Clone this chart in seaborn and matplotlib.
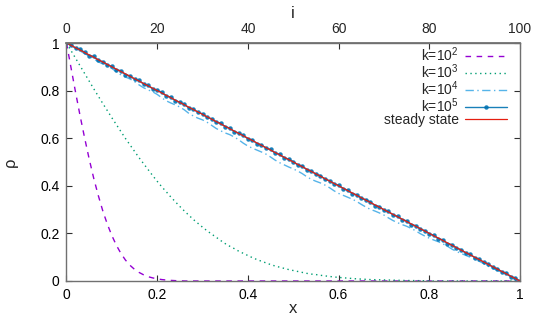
import numpy as np
import pandas as pd
import matplotlib
matplotlib.use("Agg")
import matplotlib.pyplot as plt
import seaborn as sns

# ==============================================================================
# DATA: density profile rho(x) after k steps, lattice sites i = 0..100
# ==============================================================================
i_sites = np.arange(0, 101)
x_pos = i_sites / 100.0

rho_k2 = [1.000, 0.896, 0.793, 0.694, 0.601, 0.513, 0.432, 0.360, 0.295, 0.239,
          0.191, 0.150, 0.116, 0.088, 0.066, 0.049, 0.036, 0.026, 0.018, 0.013,
          0.009, 0.006, 0.004, 0.0025, 0.0015, 0.001] + [0.0] * 75

rho_k3 = [1.000, 0.968, 0.936, 0.904, 0.872, 0.840, 0.808, 0.777, 0.746, 0.716,
          0.686, 0.657, 0.628, 0.599, 0.572, 0.545, 0.518, 0.493, 0.468, 0.443,
          0.419, 0.396, 0.375, 0.353, 0.333, 0.313, 0.294, 0.276, 0.258, 0.242,
          0.226, 0.211, 0.197, 0.184, 0.170, 0.157, 0.146, 0.136, 0.125, 0.116,
          0.107, 0.098, 0.090, 0.083, 0.076, 0.069, 0.063, 0.058, 0.053, 0.048,
          0.044, 0.040, 0.036, 0.032, 0.029, 0.027, 0.024, 0.0215, 0.019, 0.017,
          0.015, 0.0135, 0.012, 0.0105, 0.009, 0.008, 0.007, 0.006, 0.0055, 0.005,
          0.0045, 0.004, 0.0035, 0.003, 0.0025, 0.002, 0.002, 0.0015, 0.0015, 0.001,
          0.001] + [0.0] * 20

rho_k4 = [1.000, 0.989, 0.979, 0.967, 0.955, 0.946, 0.934, 0.921, 0.912, 0.904,
          0.893, 0.879, 0.866, 0.857, 0.849, 0.838, 0.824, 0.812, 0.803, 0.795,
          0.784, 0.770, 0.757, 0.748, 0.740, 0.731, 0.719, 0.704, 0.693, 0.684,
          0.677, 0.667, 0.654, 0.641, 0.631, 0.622, 0.615, 0.605, 0.593, 0.579,
          0.567, 0.558, 0.550, 0.542, 0.533, 0.521, 0.508, 0.497, 0.488, 0.479,
          0.471, 0.462, 0.451, 0.438, 0.427, 0.419, 0.412, 0.403, 0.392, 0.379,
          0.368, 0.360, 0.352, 0.344, 0.334, 0.322, 0.311, 0.301, 0.294, 0.286,
          0.277, 0.265, 0.254, 0.245, 0.237, 0.230, 0.221, 0.211, 0.199, 0.189,
          0.180, 0.172, 0.165, 0.156, 0.146, 0.134, 0.124, 0.116, 0.108, 0.100,
          0.092, 0.083, 0.073, 0.062, 0.053, 0.045, 0.036, 0.028, 0.018, 0.009,
          0.000]

rho_k5 = [1.000, 0.993, 0.978, 0.974, 0.961, 0.947, 0.944, 0.927, 0.922, 0.908,
          0.902, 0.887, 0.884, 0.867, 0.862, 0.848, 0.843, 0.827, 0.822, 0.807,
          0.801, 0.794, 0.777, 0.773, 0.757, 0.752, 0.743, 0.726, 0.723, 0.708,
          0.703, 0.687, 0.682, 0.667, 0.664, 0.648, 0.643, 0.627, 0.622, 0.612,
          0.597, 0.593, 0.577, 0.572, 0.558, 0.553, 0.537, 0.533, 0.517, 0.512,
          0.502, 0.487, 0.483, 0.467, 0.463, 0.448, 0.443, 0.427, 0.422, 0.408,
          0.403, 0.388, 0.382, 0.367, 0.363, 0.347, 0.342, 0.332, 0.317, 0.313,
          0.297, 0.293, 0.277, 0.272, 0.258, 0.253, 0.237, 0.233, 0.218, 0.212,
          0.198, 0.192, 0.178, 0.173, 0.157, 0.153, 0.138, 0.132, 0.117, 0.113,
          0.098, 0.092, 0.078, 0.072, 0.057, 0.052, 0.038, 0.033, 0.018, 0.012,
          0.000]

steady_x = [0.0, 1.0]
steady_rho = [1.0, 0.0]

labels = ["k=$10^2$", "k=$10^3$", "k=$10^4$", "k=$10^5$", "steady state"]
colors = ["#9400d3", "#009e73", "#56b4e9", "#0072b2", "#e51e10"]

# ==============================================================================
# STYLE
# ==============================================================================
sns.set_theme(style="white")
plt.rcParams["font.family"] = ["Liberation Sans", "DejaVu Sans"]
plt.rcParams["font.size"] = 10
plt.rcParams["mathtext.default"] = "regular"

fig = plt.figure(figsize=(5.45, 3.27), dpi=100)
ax = fig.add_axes([0.1220, 0.1407, 0.8321, 0.7278])

df2 = pd.DataFrame({"x": x_pos, "rho": rho_k2})
df3 = pd.DataFrame({"x": x_pos, "rho": rho_k3})
df4 = pd.DataFrame({"x": x_pos, "rho": rho_k4})
df5 = pd.DataFrame({"x": x_pos, "rho": rho_k5})
df_ss = pd.DataFrame({"x": steady_x, "rho": steady_rho})

sns.lineplot(data=df2, x="x", y="rho", ax=ax, color=colors[0], lw=1.0,
             label=labels[0], linestyle=(0, (4, 4)))
sns.lineplot(data=df3, x="x", y="rho", ax=ax, color=colors[1], lw=1.0,
             label=labels[1], linestyle=(0, (1, 2.5)))
sns.lineplot(data=df4, x="x", y="rho", ax=ax, color=colors[2], lw=1.0,
             label=labels[2], linestyle=(0, (6, 2.5, 1, 2.5)))
sns.lineplot(data=df5, x="x", y="rho", ax=ax, color=colors[3], lw=1.0,
             label=labels[3], marker="o", markersize=3.2, markeredgewidth=0,
             alpha=0.9)
sns.lineplot(data=df_ss, x="x", y="rho", ax=ax, color=colors[4], lw=0.9,
             label=labels[4])

ax.set_xlim(0, 1)
ax.set_ylim(0, 1)
ax.set_xticks(np.arange(0, 1.01, 0.2))
ax.set_yticks(np.arange(0, 1.01, 0.2))
ax.set_xticklabels(["0", "0.2", "0.4", "0.6", "0.8", "1"])
ax.set_yticklabels(["0", "0.2", "0.4", "0.6", "0.8", "1"])
ax.set_xlabel("x", labelpad=-1)
ax.set_ylabel("ρ", labelpad=16)

for sp in ax.spines.values():
    sp.set_color("#707070")
    sp.set_linewidth(1.0)
ax.tick_params(direction="in", length=4, width=0.8, color="#303030",
               left=True, bottom=True, right=True, top=False, pad=5,
               labelsize=10, labelcolor="black")

# top axis: site index i
ax_top = ax.secondary_xaxis("top", functions=(lambda v: v * 100, lambda v: v / 100))
ax_top.set_xticks(np.arange(0, 101, 20))
ax_top.set_xlabel("i", labelpad=3)
ax_top.tick_params(direction="in", length=4, width=0.8, color="#303030", pad=5,
                   labelsize=10)
ax_top.spines["top"].set_color("#707070")

leg = ax.legend(loc="upper right", bbox_to_anchor=(0.99, 1.025), frameon=False,
                markerfirst=False, handlelength=3.0, handletextpad=0.5,
                labelspacing=-0.12, borderaxespad=0.2, fontsize=10)
for h in leg.legend_handles:
    if h.get_marker() == "o":
        h.set_markevery([1])

fig.savefig("out.png", dpi=100)
